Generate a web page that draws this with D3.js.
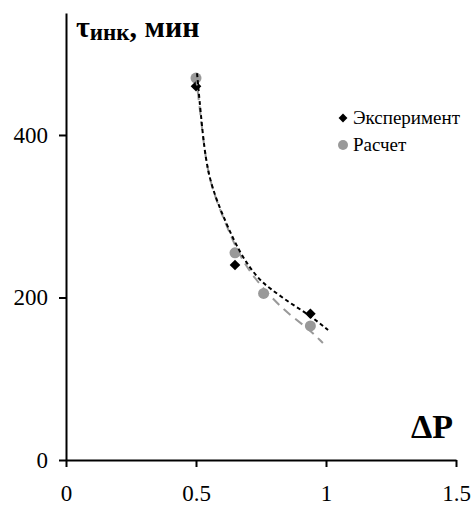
<!DOCTYPE html>
<html><head><meta charset="utf-8">
<script src="https://cdn.jsdelivr.net/npm/d3@7"></script>
<style>body{margin:0;background:#fff}svg{display:block}</style>
</head><body>
<svg id="c" width="471" height="506"></svg>
<script>
// Data
const expX = [0.5, 0.65, 0.94];
const expY = [460, 240, 180];
const calcX = [0.5, 0.65, 0.76, 0.94];
const calcY = [470, 255, 205, 165];
// Trend lines
const expFitX = [0.504, 0.523, 0.546, 0.612, 0.669, 0.738, 0.785, 0.862, 0.938, 1.008];
const expFitY = [476, 409, 346, 294, 254, 223, 211, 193, 178, 160];
const calcFitX = [0.5, 0.523, 0.546, 0.612, 0.669, 0.727, 0.79, 0.858, 0.931, 0.988];
const calcFitY = [472, 409, 346, 292, 250, 223, 200, 179, 162, 144];
const xTicks = [0, 0.5, 1, 1.5];
const xTickLabels = ["0", "0.5", "1", "1.5"];
const yTicks = [0, 200, 400];
const legendLabels = ["Эксперимент", "Расчет"];

const FONT = "'Liberation Serif'";
const svg = d3.select("#c");
const x = d3.scaleLinear().domain([0, 1.5]).range([66, 456]);
const y = d3.scaleLinear().domain([0, 550]).range([460, 13.1]);

// axes
const xAxis = d3.axisBottom(x).tickValues(xTicks).tickFormat((d,i)=>xTickLabels[i]).tickSize(7).tickSizeOuter(0).tickPadding(18);
const gx = svg.append("g").attr("transform","translate(0,460)").call(xAxis);
gx.select(".domain").attr("stroke","#000").attr("stroke-width",2);
gx.selectAll(".tick line").attr("stroke","#000").attr("stroke-width",2);
gx.selectAll(".tick text").attr("font-size",23).attr("fill","#000").style("font-family",FONT);

const yAxis = d3.axisLeft(y).tickValues(yTicks).tickSize(7).tickSizeOuter(0).tickPadding(11);
const gy = svg.append("g").attr("transform","translate(66,0)").call(yAxis);
gy.select(".domain").attr("stroke","#000").attr("stroke-width",2);
gy.selectAll(".tick line").attr("stroke","#000").attr("stroke-width",2);
gy.selectAll(".tick text").attr("font-size",23).attr("fill","#000").style("font-family",FONT);

// markers
svg.append("g").selectAll("circle").data(calcX).join("circle")
  .attr("cx",(d)=>x(d)).attr("cy",(d,i)=>y(calcY[i])).attr("r",5.5).attr("fill","#999");
const diamond = d3.symbol().type(d3.symbolDiamond2).size(72);
svg.append("g").selectAll("path").data(expX).join("path")
  .attr("d",diamond).attr("transform",(d,i)=>`translate(${x(d)},${y(expY[i])})`).attr("fill","#000");

// trend lines
const line = d3.line().x(d=>x(d[0])).y(d=>y(d[1])).curve(d3.curveBasis);
svg.append("path").datum(calcFitX.map((d,i)=>[d,calcFitY[i]]))
  .attr("d",line).attr("fill","none").attr("stroke","#999").attr("stroke-width",2).attr("stroke-dasharray","9,6");
svg.append("path").datum(expFitX.map((d,i)=>[d,expFitY[i]]))
  .attr("d",line).attr("fill","none").attr("stroke","#000").attr("stroke-width",2).attr("stroke-dasharray","4,3");

// axis titles
const t = svg.append("text").attr("x",76).attr("y",37).attr("font-weight","bold").attr("fill","#000").style("font-family",FONT);
t.append("tspan").attr("font-size",30).text("τ");
t.append("tspan").attr("font-size",23).attr("dy",3).text("инк");
t.append("tspan").attr("font-size",30).attr("dy",-3).text(", мин");
svg.append("text").attr("x",453).attr("y",438).attr("text-anchor","end").attr("font-weight","bold")
  .attr("font-size",34).attr("fill","#000").style("font-family",FONT).text("ΔP");

// legend
const lg = svg.append("g");
lg.append("path").attr("d",d3.symbol().type(d3.symbolDiamond2).size(50)).attr("transform","translate(343,118)").attr("fill","#000");
lg.append("circle").attr("cx",343).attr("cy",145).attr("r",5).attr("fill","#999");
lg.selectAll("text").data(legendLabels).join("text")
  .attr("x",353).attr("y",(d,i)=>124+i*27).attr("font-size",19).attr("fill","#000").style("font-family",FONT).text(d=>d);
</script>
</body></html>
